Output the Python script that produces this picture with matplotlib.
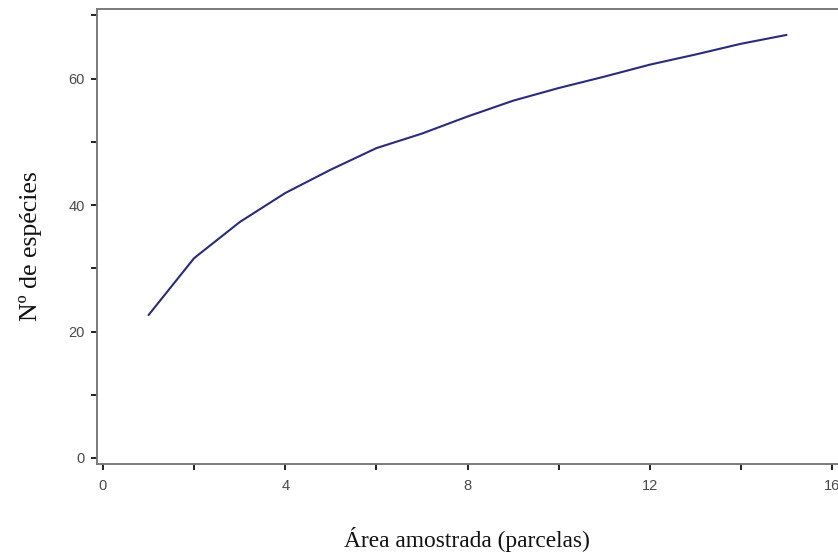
import matplotlib
matplotlib.use("Agg")
import matplotlib.pyplot as plt
from matplotlib.ticker import MultipleLocator

# Species accumulation curve
parcelas = [1, 2, 3, 4, 5, 6, 7, 8, 9, 10, 11, 12, 13, 14, 15]
especies = [22.6, 31.6, 37.3, 41.9, 45.6, 49.0, 51.3, 54.0, 56.5, 58.5,
            60.3, 62.2, 63.8, 65.5, 66.9]

x_major = [0, 4, 8, 12, 16]
y_major = [0, 20, 40, 60]

fig = plt.figure(figsize=(8.38, 5.56), dpi=100)
ax = fig.add_axes([0.1158, 0.1655, 0.8842, 0.8183])

ax.plot(parcelas, especies, color="#2b2b7c", linewidth=1.5,
        solid_capstyle="round")

ax.set_xlim(-0.13, 16.13)
ax.set_ylim(-0.95, 71.0)
ax.set_xticks(x_major)
ax.set_yticks(y_major)
ax.xaxis.set_minor_locator(MultipleLocator(2))
ax.yaxis.set_minor_locator(MultipleLocator(10))

for side in ("left", "bottom", "top"):
    ax.spines[side].set_color("#7a7a7a")
    ax.spines[side].set_linewidth(1.4)
ax.spines["right"].set_visible(False)

ax.tick_params(which="both", direction="out", length=4, width=1.4,
               color="#222222", labelsize=10.5, labelcolor="#4a4a4a")
ax.tick_params(axis="y", pad=5)
ax.tick_params(axis="x", pad=7)
for lbl in ax.get_xticklabels() + ax.get_yticklabels():
    lbl.set_family(["Liberation Sans", "DejaVu Sans"])

fig.text(0.5567, 0.030, "Área amostrada (parcelas)", ha="center",
         va="center", fontsize=16.8,
         family=["Liberation Serif", "DejaVu Serif"], color="#111111")
fig.text(0.036, 0.5576, "Nº de espécies", ha="center", va="center",
         rotation=90, fontsize=18.5,
         family=["Liberation Serif", "DejaVu Serif"], color="#111111")

fig.savefig("out.png", dpi=100)
